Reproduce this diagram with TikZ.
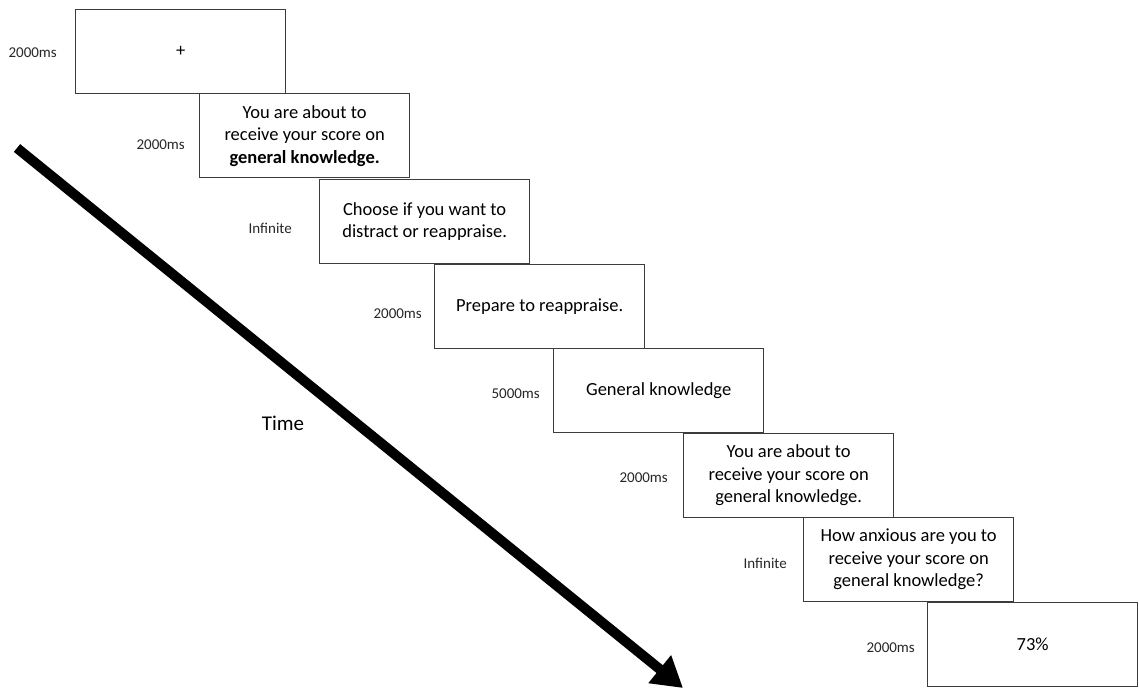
\documentclass[tikz,border=0pt]{standalone}
\usepackage{fontspec}
\setmainfont{Carlito}
\usetikzlibrary{arrows.meta,positioning}
\definecolor{frame}{HTML}{3C3C3C}
\tikzset{
  slide/.style={draw=frame, line width=1.3pt, minimum width=210pt, minimum height=84pt,
    align=center, inner sep=0pt, anchor=north west, font=\fontsize{18.5}{22.5}\selectfont},
  dur/.style={font=\fontsize{15}{17}\selectfont, text=black!85, inner sep=0pt},
  timearr/.style={-{Triangle[length=30pt,width=34pt]}, line width=10pt, draw=black}
}
\begin{document}
\begin{tikzpicture}[x=1pt,y=-1pt]
  \useasboundingbox (0,0) rectangle (1139,689);
  % trial sequence
  \foreach \bx/\by/\gap/\dy/\dur/\txt [count=\i] in {
      75/9/18/1/2000ms/{+},
      199/93/14/9/2000ms/{You are about to\\receive your score on\\\textbf{general knowledge.}},
      319/179/27/7/Infinite/{Choose if you want to\\distract or reappraise.},
      434/264/12/7/2000ms/{Prepare to reappraise.},
      553/348/13/3/5000ms/{General knowledge},
      683/433/15/2/2000ms/{You are about to\\receive your score on\\general knowledge.},
      803/517/16/4/Infinite/{How anxious are you to\\receive your score on\\general knowledge?},
      927/602/12/3/2000ms/{73\%}} {
    \node[slide] (b\i) at (\bx,\by) {\txt};
    \node[dur, left=\gap pt of b\i, yshift=-\dy pt] (d\i) {\dur};
  }
  % time axis
  \coordinate (tstart) at (17,148);
  \coordinate (tend) at (683,688);
  \draw[timearr] (tstart) -- (tend);
  \node[font=\fontsize{21}{24}\selectfont] (time) at (283,423) {Time};
\end{tikzpicture}
\end{document}
